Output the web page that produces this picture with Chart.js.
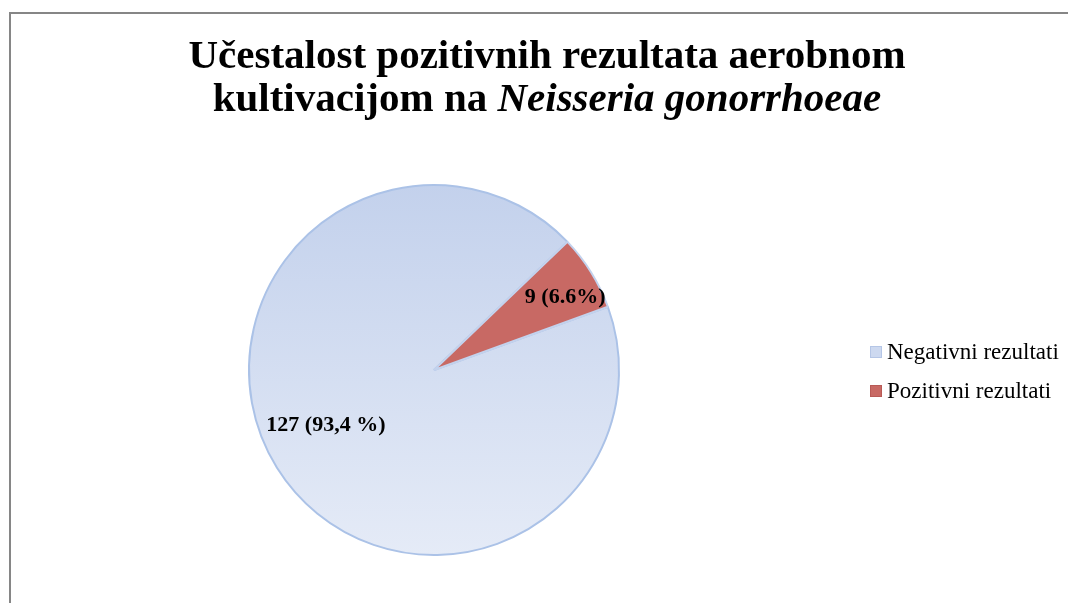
<!DOCTYPE html>
<html>
<head>
<meta charset="utf-8">
<script src="https://cdn.jsdelivr.net/npm/chart.js@4/dist/chart.umd.min.js"></script>
<style>
  html, body { margin: 0; padding: 0; background: #fff; }
  #wrap { position: relative; width: 1068px; height: 603px; overflow: hidden; }
  #frame {
    position: absolute; left: 9px; top: 12px; width: 1100px; height: 700px;
    border-left: 2px solid #868686; border-top: 2px solid #868686;
  }
  #title {
    position: absolute; left: 0; top: 33px; width: 1094px; text-align: center;
    font: bold 41px "Liberation Serif", "Times New Roman", serif; line-height: 43px; color: #000;
  }
  #chart { position: absolute; left: 0; top: 0; }
  #legend {
    position: absolute; left: 870px; top: 337px;
    font: 23px "Liberation Serif", "Times New Roman", serif; color: #000;
  }
  .item { height: 39px; line-height: 30px; white-space: nowrap; }
  .box {
    display: inline-block; width: 12px; height: 12px; margin-right: 5px;
    vertical-align: 1px; box-sizing: border-box;
  }
</style>
</head>
<body>
<div id="wrap">
  <div id="frame"></div>
  <canvas id="chart" width="1068" height="603"></canvas>
  <div id="title">Učestalost pozitivnih rezultata aerobnom<br>kultivacijom na <i>Neisseria gonorrhoeae</i></div>
  <div id="legend"></div>
</div>
<script>
// ----------------------------- Data ---------------------------------------
const categories = ["Negativni rezultati", "Pozitivni rezultati"];
const counts = [127, 9];
const percentLabels = ["93,4 %", "6.6%"];
const sliceColors = ["#cdd9f0", "#c86964"];

// label nudges (angle in degrees, radius fraction) per slice
const labelPlacement = [
    { nudge: 5, frac: 0.655 },
    { nudge: 3, frac: 0.81 },
];

// ----------------------------- Plugins ------------------------------------
const sliceLabels = {
    id: "sliceLabels",
    afterDatasetsDraw(chart) {
        const ctx = chart.ctx;
        const meta = chart.getDatasetMeta(0);
        ctx.save();
        ctx.font = "bold 22px 'Liberation Serif', 'Times New Roman', serif";
        ctx.fillStyle = "#000";
        ctx.textAlign = "center";
        ctx.textBaseline = "middle";
        meta.data.forEach((arc, i) => {
            const p = arc.getProps(["x", "y", "startAngle", "endAngle", "outerRadius"], true);
            const mid = (p.startAngle + p.endAngle) / 2 + labelPlacement[i].nudge * Math.PI / 180;
            const r = p.outerRadius * labelPlacement[i].frac;
            const text = counts[i] + " (" + percentLabels[i] + ")";
            ctx.fillText(text, p.x + Math.cos(mid) * r, p.y + Math.sin(mid) * r);
        });
        ctx.restore();
    },
};

// blue slice gets a soft top-to-bottom gradient, like the original
function sliceFill(context) {
    const i = context.dataIndex;
    const area = context.chart.chartArea;
    if (i !== 0 || !area) return sliceColors[i];
    const g = context.chart.ctx.createLinearGradient(0, area.top, 0, area.bottom);
    g.addColorStop(0, "#c3d1ec");
    g.addColorStop(1, "#e5ebf7");
    return g;
}

// ----------------------------- Chart --------------------------------------
new Chart(document.getElementById("chart"), {
    type: "pie",
    data: {
        labels: categories,
        datasets: [{
            data: counts,
            backgroundColor: sliceFill,
            borderColor: ["#abc2e7", "#c3d2ed"],
            borderWidth: 2,
        }],
    },
    options: {
        responsive: false,
        animation: false,
        rotation: 70,
        layout: { padding: { left: 248, right: 448, top: 184, bottom: 47 } },
        plugins: {
            legend: { display: false },
            tooltip: { enabled: false },
        },
    },
    plugins: [sliceLabels],
});

// ----------------------------- Legend -------------------------------------
const legendEl = document.getElementById("legend");
categories.forEach((name, i) => {
    const row = document.createElement("div");
    row.className = "item";
    const box = document.createElement("span");
    box.className = "box";
    box.style.background = sliceColors[i];
    box.style.border = "1px solid " + (i === 0 ? "#b5c6e6" : "#b85a56");
    row.appendChild(box);
    row.appendChild(document.createTextNode(name));
    legendEl.appendChild(row);
});
</script>
</body>
</html>
